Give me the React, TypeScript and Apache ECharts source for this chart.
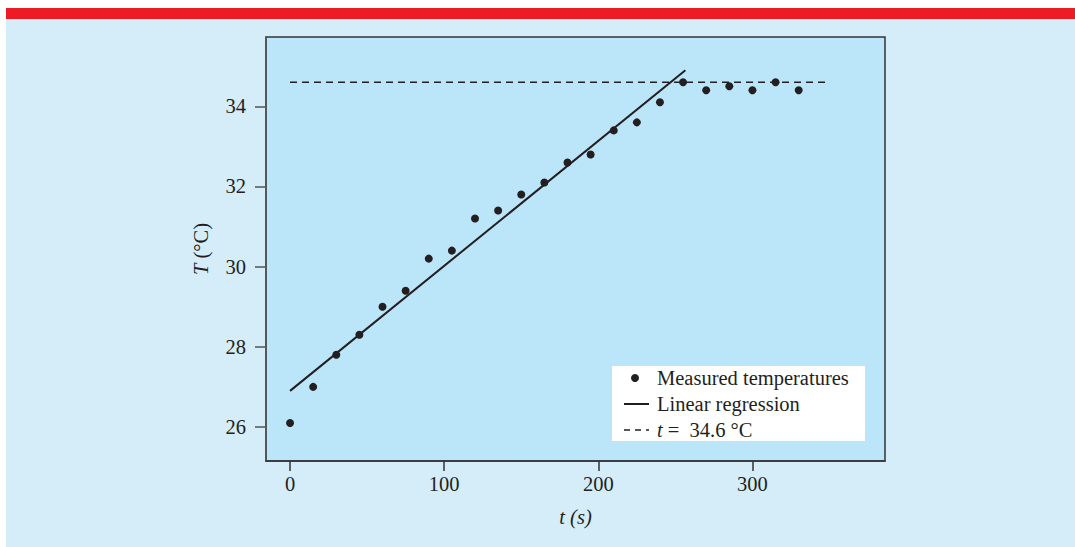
import React, { useEffect, useRef } from "react";
import * as echarts from "echarts";

const times = [0, 15, 30, 45, 60, 75, 90, 105, 120, 135, 150, 165, 180, 195, 210, 225, 240, 255, 270, 285, 300, 315, 330];
const temps = [26.1, 27.0, 27.8, 28.3, 29.0, 29.4, 30.2, 30.4, 31.2, 31.4, 31.8, 32.1, 32.6, 32.8, 33.4, 33.6, 34.1, 34.6, 34.4, 34.5, 34.4, 34.6, 34.4];
const regressionT = [0, 256.5];
const regressionY = [26.9, 34.9];
const plateauT = [0, 348];
const plateauY = [34.6, 34.6];
const xTicks = [0, 100, 200, 300];
const yTicks = [26, 28, 30, 32, 34];
const seriesNames = ["Measured temperatures", "Linear regression", "t = 34.6 °C"];

const FONT = "Liberation Serif";
const INK = "#231f20";
const FS = 20.5;

export default function App() {
  const ref = useRef<HTMLDivElement>(null);
  useEffect(() => {
    if (!ref.current) return;
    const chart = echarts.init(ref.current, null, { renderer: "svg" });
    const legendX = 612;
    const legendY = 366;
    const rowY = [12, 38, 64];
    const txt = { fontFamily: FONT, fontSize: FS, fill: INK };
    chart.setOption({
      animation: false,
      backgroundColor: "#ffffff",
      textStyle: { fontFamily: FONT },
      graphic: [
        { type: "rect", z: -10, silent: true, shape: { x: 6, y: 19, width: 1069, height: 528 }, style: { fill: "#d5ecf9" } },
        { type: "rect", z: -10, silent: true, shape: { x: 6, y: 8, width: 1069, height: 11 }, style: { fill: "#ed1c24" } },
        {
          type: "group",
          x: legendX,
          y: legendY,
          z: 100,
          children: [
            { type: "rect", shape: { x: 0, y: 0, width: 253, height: 75 }, style: { fill: "#ffffff" } },
            { type: "circle", shape: { cx: 23, cy: rowY[0], r: 4 }, style: { fill: INK } },
            { type: "text", x: 45, y: rowY[0], style: { ...txt, text: seriesNames[0], verticalAlign: "middle" } },
            { type: "line", shape: { x1: 12, y1: rowY[1], x2: 37, y2: rowY[1] }, style: { stroke: INK, lineWidth: 2 } },
            { type: "text", x: 45, y: rowY[1], style: { ...txt, text: seriesNames[1], verticalAlign: "middle" } },
            { type: "line", shape: { x1: 12, y1: rowY[2], x2: 37, y2: rowY[2] }, style: { stroke: INK, lineWidth: 1.5, lineDash: [6, 5] } },
            {
              type: "text",
              x: 45,
              y: rowY[2],
              style: {
                ...txt,
                verticalAlign: "middle",
                text: "{it|t} {n|=  34.6 °C}",
                rich: {
                  it: { fontFamily: FONT, fontSize: FS, fontStyle: "italic", fill: INK },
                  n: { fontFamily: FONT, fontSize: FS, fill: INK },
                },
              },
            },
          ],
        },
      ],
      grid: {
        left: 266,
        top: 37,
        width: 619,
        height: 424,
        show: true,
        backgroundColor: "#bbe5f9",
        borderColor: "#333333",
        borderWidth: 1.5,
      },
      xAxis: {
        type: "value",
        min: -15.6,
        max: 386,
        name: "t (s)",
        nameLocation: "middle",
        nameGap: 46,
        nameTextStyle: { fontFamily: FONT, fontSize: FS, fontStyle: "italic", color: INK },
        axisLine: { show: true, onZero: false, lineStyle: { color: "#333333", width: 1.5 } },
        axisTick: { show: true, inside: false, length: 10, customValues: xTicks, lineStyle: { color: "#333333", width: 1.5 } },
        axisLabel: { customValues: xTicks, margin: 12, fontFamily: FONT, fontSize: FS, color: INK },
        splitLine: { show: false },
      },
      yAxis: {
        type: "value",
        min: 25.15,
        max: 35.73,
        name: "{it|T} (°C)",
        nameLocation: "middle",
        nameGap: 55,
        nameRotate: 90,
        nameTextStyle: {
          fontFamily: FONT,
          fontSize: FS,
          color: INK,
          rich: {
            it: { fontFamily: FONT, fontSize: FS, fontStyle: "italic", color: INK },
          },
        },
        axisLine: { show: true, onZero: false, lineStyle: { color: "#555555", width: 1.5 } },
        axisTick: { show: true, inside: false, length: 11, customValues: yTicks, lineStyle: { color: "#555555", width: 1.5 } },
        axisLabel: { customValues: yTicks, margin: 20, fontFamily: FONT, fontSize: FS, color: INK },
        splitLine: { show: false },
      },
      series: [
        {
          name: seriesNames[0],
          type: "scatter",
          symbol: "circle",
          symbolSize: 8,
          itemStyle: { color: INK, opacity: 1 },
          data: times.map((t, i) => [t, temps[i]]),
          z: 5,
        },
        {
          name: seriesNames[1],
          type: "line",
          symbol: "none",
          showSymbol: false,
          lineStyle: { color: INK, width: 2 },
          itemStyle: { color: INK },
          data: regressionT.map((t, i) => [t, regressionY[i]]),
        },
        {
          name: seriesNames[2],
          type: "line",
          symbol: "none",
          showSymbol: false,
          lineStyle: { color: INK, width: 1.5, type: [7, 5] },
          itemStyle: { color: INK },
          data: plateauT.map((t, i) => [t, plateauY[i]]),
        },
      ],
    });
    return () => chart.dispose();
  }, []);
  return (
    <div style={{ position: "absolute", left: 0, top: 0, width: 1075, height: 547 }}>
      <div ref={ref} style={{ width: 1075, height: 547 }} />
    </div>
  );
}
